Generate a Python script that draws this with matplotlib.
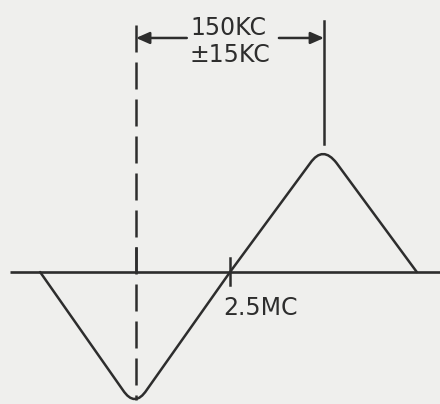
import numpy as np
from matplotlib import pyplot as plt
from matplotlib.path import Path
from matplotlib.patches import PathPatch

# discriminator response, frequency in MC vs. relative output;
# corners are drawn as quadratic curves through their control points
freq_mc = [2.197, 2.329, 2.348, 2.367, 2.500, 2.628, 2.648, 2.670, 2.798]
response = [0.0, -0.929, -1.071, -0.929, 0.0, 0.858, 1.000, 0.858, 0.0]
codes = [Path.MOVETO, Path.LINETO, Path.CURVE3, Path.CURVE3, Path.LINETO,
         Path.LINETO, Path.CURVE3, Path.CURVE3, Path.LINETO]

center_mc = 2.5
peak_low_mc = 2.35
peak_high_mc = 2.65
spacing_label = ["150KC", "\u00b115KC"]
center_label = "2.5MC"

INK = "#2d2d2d"
PAPER = "#efefed"


def main():
    fig = plt.figure(figsize=(4.4, 4.04), dpi=100, facecolor=PAPER)
    ax = fig.add_axes([0, 0, 1, 1])
    ax.set_facecolor(PAPER)
    ax.set_xlim(2.133, 2.835)
    ax.set_ylim(-1.039, 2.142)
    ax.axis("off")

    # baseline
    ax.plot([2.149, 2.835], [0, 0], color=INK, lw=1.9, solid_capstyle="butt")

    # response curve
    curve = Path(np.column_stack([freq_mc, response]), codes)
    ax.add_patch(PathPatch(curve, facecolor="none", edgecolor=INK, lw=1.8,
                           joinstyle="round", capstyle="round"))

    # dashed marker through the lower peak
    ax.plot([peak_low_mc, peak_low_mc], [1.945, -1.008], color=INK, lw=1.8,
            dashes=(10.8, 4.0), solid_capstyle="butt")
    # tick at the lower peak on the baseline
    ax.plot([peak_low_mc, peak_low_mc], [0.19, 0.0], color=INK, lw=1.8)

    # marker above the upper peak
    ax.plot([peak_high_mc, peak_high_mc], [1.976, 1.008], color=INK, lw=1.8)

    # tick at the crossover
    ax.plot([center_mc, center_mc], [0.110, -0.102], color=INK, lw=1.8)

    # spacing arrows
    arrow_y = 1.843
    ax.annotate("", xy=(peak_low_mc, arrow_y), xytext=(2.431, arrow_y),
                arrowprops=dict(arrowstyle="-|>,head_length=0.5,head_width=0.22",
                                color=INK, lw=1.8, mutation_scale=16,
                                shrinkA=0, shrinkB=0))
    ax.annotate("", xy=(peak_high_mc, arrow_y), xytext=(2.578, arrow_y),
                arrowprops=dict(arrowstyle="-|>,head_length=0.5,head_width=0.22",
                                color=INK, lw=1.8, mutation_scale=16,
                                shrinkA=0, shrinkB=0))

    ax.text(2.497, 1.921, spacing_label[0], color=INK, fontsize=17,
            ha="center", va="center")
    ax.text(2.50, 1.709, spacing_label[1], color=INK, fontsize=17,
            ha="center", va="center")
    ax.text(2.489, -0.283, center_label, color=INK, fontsize=17,
            ha="left", va="center")

    fig.savefig("out.png", dpi=100, facecolor=PAPER)


if __name__ == "__main__":
    main()
